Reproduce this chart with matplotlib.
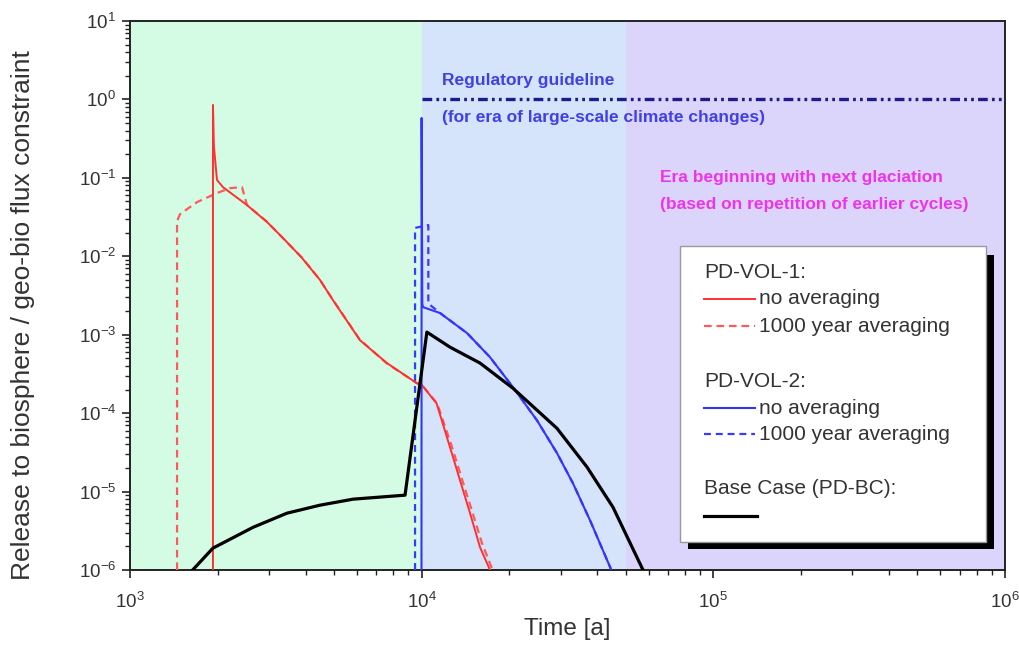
import matplotlib
matplotlib.use("Agg")
import matplotlib.pyplot as plt
from matplotlib.patches import Rectangle
from matplotlib.lines import Line2D
from matplotlib.ticker import LogLocator, NullFormatter

plt.rcParams['font.family'] = ['Liberation Sans', 'DejaVu Sans']
plt.rcParams['mathtext.default'] = 'regular'
plt.rcParams['lines.scale_dashes'] = False

# ---- data ---------------------------------------------------------------
# PD-VOL-1, no averaging
vol1_t = [1925, 1925, 1940, 1987, 2084, 2518, 2951, 3346, 3890, 4480, 4963,
          6145, 7600, 9640, 10000, 11250, 12500, 13530, 14650, 15850, 17150]
vol1_v = [1e-6, 0.85, 0.25, 0.094, 0.076, 0.045, 0.0273, 0.0171, 0.0095,
          0.0050, 0.00276, 8.5e-4, 4.35e-4, 2.4e-4, 2.3e-4, 1.33e-4, 3.7e-5,
          1.4e-5, 5.3e-6, 1.95e-6, 1.0e-6]

# PD-VOL-1, 1000 year averaging
vol1_avg_t = [1450, 1450, 1484, 1697, 1987, 2203, 2422, 2518, 2951, 3346, 3890,
              4480, 4963, 6145, 7600, 9640, 10000, 11300, 12650, 13700, 14850,
              16100, 17500]
vol1_avg_v = [1e-6, 0.028, 0.0345, 0.049, 0.064, 0.074, 0.076, 0.045, 0.0275,
              0.0170, 0.0096, 0.0050, 0.00278, 8.6e-4, 4.3e-4, 2.4e-4, 2.3e-4,
              1.33e-4, 3.9e-5, 1.5e-5, 5.8e-6, 2.2e-6, 1.0e-6]

# PD-VOL-2, no averaging
vol2_t = [9985, 9995, 10050, 10100, 11560, 14300, 17130, 20550, 24850, 29100,
          33000, 37780, 44700]
vol2_v = [1e-6, 0.58, 0.0025, 0.00225, 0.00189, 0.00105, 5.2e-4, 2.15e-4,
          8.1e-5, 3.1e-5, 1.28e-5, 4.3e-6, 1e-6]

# PD-VOL-2, 1000 year averaging
vol2_avg_t = [9490, 9490, 10000, 10540, 10540, 11560, 14300, 17130, 20550,
              24850, 29100, 33000, 37780, 44700]
vol2_avg_v = [1e-6, 0.023, 0.024, 0.025, 0.0025, 0.00189, 0.00105, 5.2e-4,
              2.15e-4, 8.1e-5, 3.1e-5, 1.28e-5, 4.3e-6, 1e-6]

# Base case PD-BC
base_t = [1640, 1925, 2641, 3451, 4478, 5815, 8770, 10420, 12500, 15850,
          20550, 29100, 36900, 45300, 57400]
base_v = [1e-6, 1.9e-6, 3.5e-6, 5.3e-6, 6.7e-6, 8.0e-6, 9.0e-6, 1.08e-3,
          6.95e-4, 4.35e-4, 2.08e-4, 6.4e-5, 2.05e-5, 6.3e-6, 1.0e-6]

# Climate eras (time bounds) and regulatory guideline level
era_bounds = [1e3, 1e4, 5e4, 1e6]
era_colors = ['#d4fbe4', '#d5e3fb', '#dcd5fb']
guideline_level = 1.0
guideline_start = 1e4

# ---- figure -------------------------------------------------------------
W, H = 1020, 649
fig = plt.figure(figsize=(W / 100, H / 100), dpi=100)
fig.patch.set_facecolor('white')


def fx(x):
    return x / W


def fy(y):
    return 1 - y / H


ax = fig.add_axes([fx(130), fy(570), fx(1005) - fx(130), fy(21) - fy(570)])
ax.set_xscale('log')
ax.set_yscale('log')
ax.set_xlim(1e3, 1e6)
ax.set_ylim(1e-6, 1e1)

for lo, hi, c in zip(era_bounds[:-1], era_bounds[1:], era_colors):
    ax.axvspan(lo, hi, color=c, zorder=0, lw=0)

ax.plot(vol1_avg_t, vol1_avg_v, color='#ff5a5a', lw=1.6,
        dashes=(5.5, 3.5), zorder=3)
ax.plot(vol1_t, vol1_v, color='#ff3030', lw=1.4, zorder=4)
ax.plot(vol2_avg_t, vol2_avg_v, color='#3a3aff', lw=1.6,
        dashes=(5, 3.5), zorder=3)
ax.plot(vol2_t, vol2_v, color='#3434ff', lw=1.5, zorder=4)
ax.plot(base_t, base_v, color='black', lw=2.3, zorder=5)

ax.plot([guideline_start, era_bounds[-1]], [guideline_level, guideline_level],
        color='#1c1c8a', lw=2.4, dashes=(7, 3, 2, 3, 2, 3), zorder=4)

ann_fs = 12.5
ax.text(1.17e4, 1.75, 'Regulatory guideline', color='#4040e6',
        fontsize=ann_fs, fontweight='bold', ha='left', va='center')
ax.text(1.17e4, 0.58, '(for era of large-scale climate changes)',
        color='#4040e6', fontsize=ann_fs, fontweight='bold',
        ha='left', va='center')
ax.text(6.55e4, 0.102, 'Era beginning with next glaciation', color='#ee33ee',
        fontsize=ann_fs, fontweight='bold', ha='left', va='center')
ax.text(6.55e4, 0.046, '(based on repetition of earlier cycles)',
        color='#ee33ee', fontsize=ann_fs, fontweight='bold',
        ha='left', va='center')

# axes styling
for s in ax.spines.values():
    s.set_linewidth(1.4)
    s.set_color('#222222')
ax.xaxis.set_major_locator(LogLocator(base=10, numticks=10))
ax.xaxis.set_minor_locator(LogLocator(base=10, subs=range(2, 10), numticks=30))
ax.yaxis.set_major_locator(LogLocator(base=10, numticks=10))
ax.yaxis.set_minor_locator(LogLocator(base=10, subs=range(2, 10), numticks=30))
ax.xaxis.set_minor_formatter(NullFormatter())
ax.yaxis.set_minor_formatter(NullFormatter())
ax.tick_params(which='major', direction='out', length=6, width=1.2,
               labelsize=13.5, colors='#222222', labelcolor='#333333')
ax.tick_params(which='minor', direction='out', length=3.5, width=1.0,
               colors='#222222')
ax.tick_params(axis='x', pad=10)
ax.tick_params(axis='y', pad=4)

ax.set_xlabel('Time [a]', fontsize=17.5, color='#333333', labelpad=4)
ax.set_ylabel('Release to biosphere / geo-bio flux constraint',
              fontsize=19, color='#333333')
ax.yaxis.set_label_coords(-0.108, 0.465)

# ---- legend box with drop shadow ----------------------------------------
shadow = Rectangle((fx(688), fy(549)), fx(994) - fx(688), fy(255) - fy(549),
                   transform=fig.transFigure, facecolor='black',
                   edgecolor='none', zorder=10)
box = Rectangle((fx(680), fy(542)), fx(986) - fx(680), fy(246) - fy(542),
                transform=fig.transFigure, facecolor='white',
                edgecolor='#999999', lw=1.0, zorder=11)
fig.add_artist(shadow)
fig.add_artist(box)

leg_fs = 15
x0, x1, xt = 704, 755, 759
entries = [
    ('head', 272, 'PD-VOL-1:', None),
    ('line', 299, 'no averaging', dict(color='#ff3030', lw=1.4)),
    ('line', 326, '1000 year averaging',
     dict(color='#ff5a5a', lw=1.6, dashes=(5.5, 3.5))),
    ('head', 381, 'PD-VOL-2:', None),
    ('line', 408, 'no averaging', dict(color='#3434ff', lw=1.5)),
    ('line', 434, '1000 year averaging',
     dict(color='#3a3aff', lw=1.6, dashes=(5, 3.5))),
    ('head', 489, 'Base Case (PD-BC):', None),
    ('line', 516, '', dict(color='black', lw=2.3)),
]
for kind, y, label, style in entries:
    if kind == 'head':
        fig.text(fx(x0), fy(y), label, fontsize=leg_fs, color='#333333',
                 ha='left', va='center', zorder=12)
    else:
        fig.add_artist(Line2D([fx(x0), fx(x1 + (2 if not label else 0))],
                              [fy(y), fy(y)], transform=fig.transFigure,
                              zorder=12, **style))
        if label:
            fig.text(fx(xt), fy(y), label, fontsize=leg_fs, color='#333333',
                     ha='left', va='center', zorder=12)

fig.savefig('out.png', dpi=100, facecolor='white')
